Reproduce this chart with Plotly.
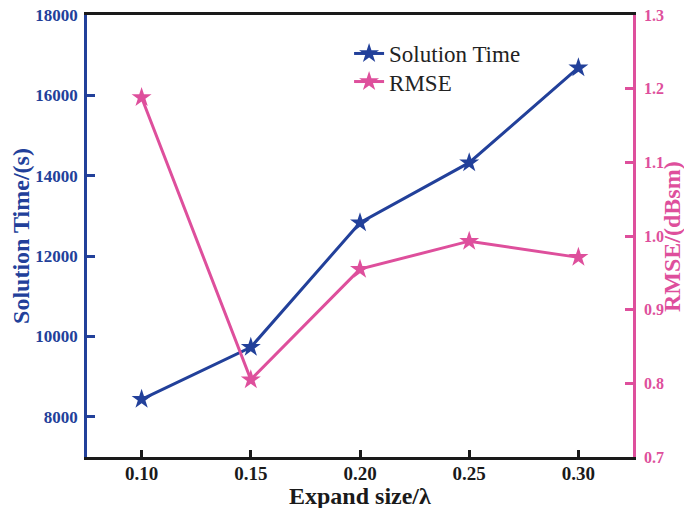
import plotly.graph_objects as go

expand_size = [0.10, 0.15, 0.20, 0.25, 0.30]
solution_time = [8436, 9730, 12830, 14325, 16690]
rmse = [1.188, 0.805, 0.955, 0.993, 0.971]

x_ticks = [0.10, 0.15, 0.20, 0.25, 0.30]
x_tick_text = ["0.10", "0.15", "0.20", "0.25", "0.30"]
y1_ticks = [8000, 10000, 12000, 14000, 16000, 18000]
y1_tick_text = ["8000", "10000", "12000", "14000", "16000", "18000"]
y2_ticks = [0.7, 0.8, 0.9, 1.0, 1.1, 1.2, 1.3]
y2_tick_text = ["0.7", "0.8", "0.9", "1.0", "1.1", "1.2", "1.3"]

BLUE = "#22409A"
PINK = "#DE4F9C"
BLACK = "#1a1a1a"
FONT = "Liberation Serif"

fig = go.Figure()
fig.add_trace(go.Scatter(
    x=expand_size, y=solution_time, name="Solution Time", mode="lines+markers",
    line=dict(color=BLUE, width=3),
    marker=dict(symbol="star", size=15, color=BLUE),
    yaxis="y", legend="legend",
))
fig.add_trace(go.Scatter(
    x=expand_size, y=rmse, name="RMSE", mode="lines+markers",
    line=dict(color=PINK, width=3),
    marker=dict(symbol="star", size=15, color=PINK),
    yaxis="y2", legend="legend2",
))

legend_style = dict(xanchor="left", yanchor="top",
                    font=dict(family=FONT, size=23, color="#222222"),
                    bgcolor="rgba(0,0,0,0)", itemwidth=30)

fig.update_layout(
    width=684, height=508,
    margin=dict(l=87, r=51, t=15, b=51),
    paper_bgcolor="white", plot_bgcolor="white",
    font=dict(family=FONT),
    showlegend=True,
    legend=dict(x=0.48, y=0.9615, **legend_style),
    legend2=dict(x=0.48, y=0.898, **legend_style),
    xaxis=dict(
        range=[0.075, 0.325], tickvals=x_ticks, ticktext=x_tick_text,
        showgrid=False, zeroline=False, automargin=False,
        showline=True, linecolor=BLACK, linewidth=2.5, mirror=True,
        ticks="inside", ticklen=7, tickwidth=2.5, tickcolor=BLACK,
        ticklabelstandoff=-3, ticklabeloverflow="allow",
        tickfont=dict(family=FONT, size=19, color=BLACK, weight="bold"),
    ),
    yaxis=dict(
        range=[7000, 18000], tickvals=y1_ticks, ticktext=y1_tick_text,
        showgrid=False, zeroline=False, automargin=False,
        showline=True, linecolor=BLUE, linewidth=2.5,
        ticks="inside", ticklen=8, tickwidth=2.5, tickcolor=BLUE,
        ticklabelstandoff=3, ticklabeloverflow="allow",
        tickfont=dict(family=FONT, size=17, color=BLUE, weight="bold"),
    ),
    yaxis2=dict(
        range=[0.7, 1.3], tickvals=y2_ticks, ticktext=y2_tick_text,
        overlaying="y", side="right",
        showgrid=False, zeroline=False, automargin=False,
        showline=True, linecolor=PINK, linewidth=2.5,
        ticks="inside", ticklen=8, tickwidth=2.5, tickcolor=PINK,
        ticklabelstandoff=5, ticklabeloverflow="allow",
        tickfont=dict(family=FONT, size=16, color=PINK, weight="bold"),
    ),
    annotations=[
        dict(text="Expand size/λ", xref="paper", yref="paper", x=0.5, y=-0.089,
             xanchor="center", yanchor="middle", showarrow=False,
             font=dict(family=FONT, size=24, color=BLACK, weight="bold")),
        dict(text="Solution Time/(s)", xref="paper", yref="paper", x=-0.121, y=0.5,
             xanchor="center", yanchor="middle", showarrow=False, textangle=-90,
             font=dict(family=FONT, size=24, color=BLUE, weight="bold")),
        dict(text="RMSE/(dBsm)", xref="paper", yref="paper", x=1.0714, y=0.5,
             xanchor="center", yanchor="middle", showarrow=False, textangle=-90,
             font=dict(family=FONT, size=24, color=PINK, weight="bold")),
    ],
)

fig.write_html("out.html", config={"displayModeBar": False},
               post_script="document.body.style.margin='0';document.body.style.overflow='hidden';")
